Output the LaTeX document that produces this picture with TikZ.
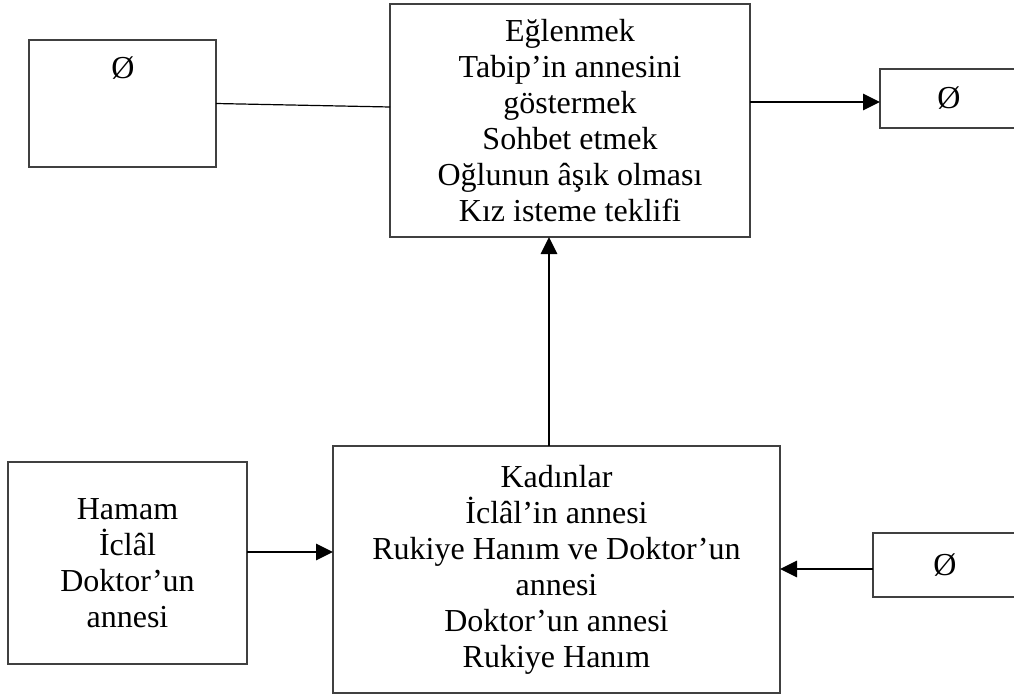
\documentclass[tikz,border=0pt]{standalone}
\usepackage{fontspec}
\setmainfont{Liberation Serif}
\usetikzlibrary{arrows.meta}

\begin{document}
\begin{tikzpicture}[x=1pt,y=-1pt,
  yazi/.style={font=\fontsize{32}{36}\selectfont},
  kutu/.style={yazi,draw=black!75,line width=1.5pt,inner sep=0pt,outer sep=0pt,align=center},
  ok/.style={line width=2.8pt,-{Triangle[length=17pt,width=16pt]}}]

\useasboundingbox (0,0) rectangle (1014,698);
\clip (0,0) rectangle (1014,698);

\node[kutu,minimum width=187pt,minimum height=127pt] (sol) at (122.5,103.5) {};
\node[yazi] (solbos) at (123,68) {Ø};

\node[kutu,minimum width=360pt,minimum height=233pt] (ust) at (570,120.5)
  {Eğlenmek\\Tabip’in annesini\\göstermek\\Sohbet etmek\\Oğlunun âşık olması\\Kız isteme teklifi};

\node[kutu,minimum width=138pt,minimum height=59pt] (sag) at (949,98.5) {Ø};

\node[kutu,minimum width=239pt,minimum height=202pt] (hamam) at (127.5,563)
  {Hamam\\İclâl\\Doktor’un\\annesi};

\node[kutu,minimum width=447pt,minimum height=247pt] (kadinlar) at (556.5,569.5)
  {Kadınlar\\İclâl’in annesi\\Rukiye Hanım ve Doktor’un\\annesi\\Doktor’un annesi\\Rukiye Hanım};

\node[kutu,minimum width=144pt,minimum height=64pt] (sagalt) at (945,565) {Ø};

\draw[line width=1.2pt] (sol.east) -- (ust.west |- 0,107);
\draw[ok] (ust.east |- 0,102) -- (sag.west |- 0,102);
\draw[ok] (kadinlar.north -| 549,0) -- (ust.south -| 549,0);
\draw[ok] (hamam.east |- 0,552) -- (kadinlar.west |- 0,552);
\draw[ok] (sagalt.west |- 0,569) -- (kadinlar.east |- 0,569);
\end{tikzpicture}
\end{document}
